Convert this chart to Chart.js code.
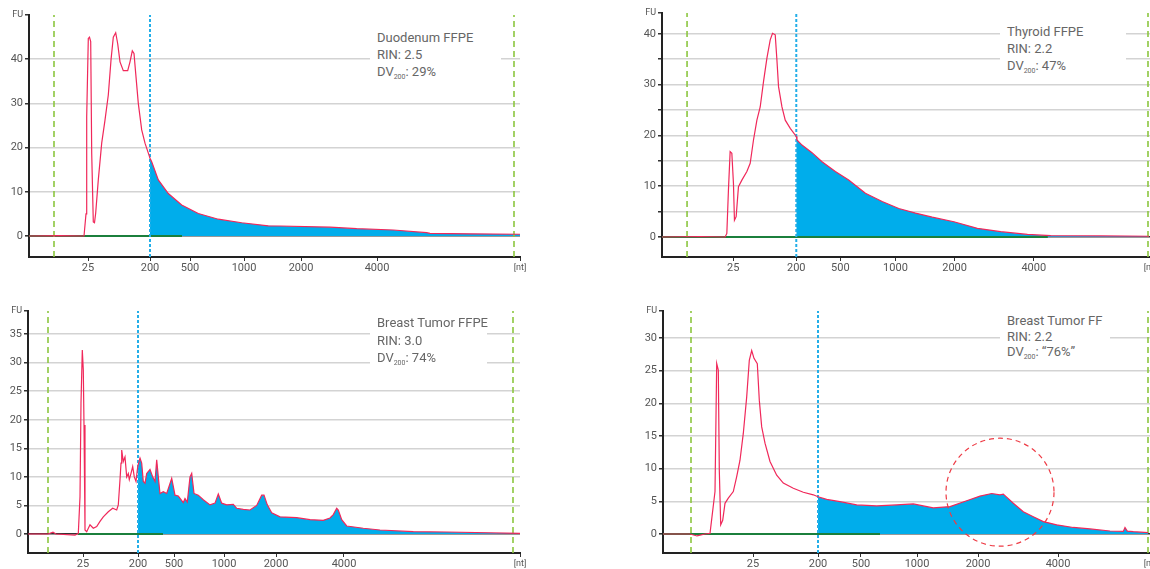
<!DOCTYPE html>
<html>
<head>
<meta charset="utf-8">
<script src="https://cdn.jsdelivr.net/npm/chart.js@4/dist/chart.umd.min.js"></script>
<style>
  body { margin: 0; background: #fff; }
  #wrap { position: relative; width: 1150px; height: 569px; overflow: hidden; font-family: Roboto, sans-serif; }
  canvas { position: absolute; }
  .note { position: absolute; background: #fff; color: #666; font-size: 13px; padding-left: 7px; box-sizing: border-box; white-space: nowrap; }
  .note sub { font-size: 7px; vertical-align: -3px; }
</style>
</head>
<body>
<div id="wrap">
  <canvas id="c1" width="575" height="285" style="left:0;top:0"></canvas>
  <canvas id="c2" width="517" height="285" style="left:633px;top:0"></canvas>
  <canvas id="c3" width="575" height="279" style="left:0;top:290px"></canvas>
  <canvas id="c4" width="517" height="279" style="left:633px;top:290px"></canvas>

  <div class="note" style="left:370px;top:29px;width:131px;line-height:17px">Duodenum FFPE<br>RIN: 2.5<br>DV<sub>200</sub>: 29%</div>
  <div class="note" style="left:1000px;top:23px;width:126px;line-height:17px">Thyroid FFPE<br>RIN: 2.2<br>DV<sub>200</sub>: 47%</div>
  <div class="note" style="left:370px;top:314px;width:117px;line-height:17.5px">Breast Tumor FFPE<br>RIN: 3.0<br>DV<sub>200</sub>: 74%</div>
  <div class="note" style="left:1000px;top:313px;width:110px;line-height:15.5px">Breast Tumor FF<br>RIN: 2.2<br>DV<sub>200</sub>: “76%”</div>
</div>

<script>
// ladder (nt) labels shown on the x axis
const ladderLabels = ['25', '200', '500', '1000', '2000', '4000'];

// Duodenum FFPE - migration time (s) / fluorescence (FU)
const duoTime = [18, 21.1, 23.5, 23.7, 23.77, 23.93, 24.05, 24.17, 24.27, 24.43, 24.55, 24.67, 24.93, 25.27, 25.6, 25.93, 26.2, 26.43, 26.67, 26.87, 27.1, 27.43, 27.87, 28.1, 28.33, 28.5, 28.67, 28.93, 29.27, 29.6, 30.0, 30.1, 30.27, 30.93, 31.93, 33.27, 34.93, 36.93, 39.27, 41.93, 43.1, 48.1, 50.77, 54.43, 57.77, 58.1, 62.1, 67.1];
const duoFU = [0, 0.1, 0, 5, 27, 44.7, 45, 44, 18.8, 3.2, 3.0, 5.2, 12.7, 21, 26.2, 31.9, 39.8, 45, 46, 43.5, 39.4, 37.4, 37.4, 39.4, 41.9, 41.3, 36.8, 30, 24, 21, 18.3, 17.6, 16.8, 12.7, 9.6, 7.0, 5.1, 3.8, 3.0, 2.3, 2.26, 2.0, 1.65, 1.36, 0.75, 0.6, 0.5, 0.4];
const duoLadder = [23.9, 30.1, 34.1, 39.5, 45.2, 52.8];
const duoMarkers = [20.5, 66.5];
const duoBaseline = [18, 33.3];
const duoYTicks = [0, 10, 20, 30, 40];

// Thyroid FFPE
const thyTime = [18, 21.8, 24.3, 24.47, 24.63, 24.8, 24.97, 25.13, 25.23, 25.4, 25.63, 25.97, 26.47, 26.8, 27.13, 27.47, 27.8, 28.13, 28.47, 28.8, 29.03, 29.3, 29.47, 29.63, 29.97, 30.3, 30.8, 31.4, 31.47, 31.97, 32.97, 33.97, 35.3, 36.63, 38.3, 39.97, 41.63, 43.3, 44.97, 47.13, 49.47, 51.8, 54.47, 56.8, 61.8, 66.6];
const thyFU = [0, 0.1, 0, 0.7, 9.25, 16.8, 16.5, 10.6, 3.3, 4.0, 9.9, 11.2, 12.9, 14.5, 19.1, 23, 25.6, 30.6, 35.2, 38.8, 40.1, 39.8, 34.8, 29.6, 25.6, 23, 21.4, 19.8, 19.1, 18.1, 16.6, 14.8, 12.9, 11.2, 8.6, 7.0, 5.6, 4.7, 3.9, 3.0, 1.7, 1.04, 0.5, 0.26, 0.2, 0.15];
const thyLadder = [25.1, 31.4, 35.8, 41.3, 47.2, 55.1];
const thyMarkers = [20.5, 66.5];
const thyBaseline = [18, 56.5];
const thyYTicks = [0, 5, 10, 15, 20, 25, 30, 35, 40];

// Breast Tumor FFPE
const btTime = [18, 20, 20.5, 20.8, 22.7, 23.03, 23.2, 23.3, 23.43, 23.53, 23.6, 23.7, 23.87, 24.2, 24.53, 24.87, 25.2, 25.53, 26.03, 26.47, 26.87, 27.03, 27.2, 27.3, 27.37, 27.53, 27.7, 27.87, 28.03, 28.13, 28.3, 28.47, 28.63, 28.8, 28.93, 29.0, 29.2, 29.37, 29.53, 29.7, 29.87, 30.2, 30.47, 30.7, 30.87, 31.03, 31.2, 31.53, 31.87, 32.37, 32.7, 33.03, 33.53, 33.7, 33.93, 34.2, 34.37, 34.6, 35.03, 35.53, 36.2, 36.7, 37.03, 37.37, 37.87, 38.53, 38.87, 39.53, 40.2, 40.87, 41.37, 41.6, 41.93, 42.37, 43.2, 44.87, 46.2, 47.53, 48.2, 48.53, 48.87, 49.03, 49.37, 49.87, 51.53, 53.2, 56.53, 59.87, 67.2];
const btFU = [0, 0, 0.3, 0, -0.2, 0.1, 6.5, 22.9, 32.2, 28.7, 19.1, 0.7, 0.4, 1.6, 1.0, 1.3, 2.2, 3.0, 3.9, 4.5, 4.2, 5.1, 9.5, 12.4, 14.7, 12.7, 13.5, 10, 10.6, 9.5, 10.6, 11.8, 10, 9.2, 11.2, 12, 13.3, 12.4, 9.2, 8.9, 10.6, 11.3, 10, 9.2, 13, 10, 7.1, 7.4, 7.1, 9.75, 6.8, 6.65, 5.5, 6.2, 5.6, 10, 10.6, 7.1, 6.8, 6.0, 5.1, 5.4, 7.0, 5.4, 5.1, 5.2, 4.5, 4.3, 4.2, 5.0, 6.8, 6.8, 5.1, 3.7, 3.0, 2.85, 2.5, 2.4, 2.8, 3.4, 4.5, 4.2, 2.5, 1.4, 1.0, 0.7, 0.4, 0.35, 0.1];
const btLadder = [23.5, 29.0, 32.6, 37.6, 42.8, 49.6];
const btMarkers = [20.0, 66.5];
const btBaseline = [23.0, 31.5];
const btYTicks = [0, 5, 10, 15, 20, 25, 30, 35];

// Breast Tumor FF
const ffTime = [18, 20.7, 21.4, 22.2, 22.7, 23.2, 23.37, 23.53, 23.63, 23.77, 23.97, 24.2, 24.53, 25.03, 25.37, 25.7, 26.03, 26.37, 26.63, 26.87, 27.1, 27.43, 27.63, 27.87, 28.2, 28.7, 29.37, 30.03, 31.03, 32.03, 33.03, 33.5, 34.37, 35.7, 37.37, 39.37, 41.37, 43.03, 45.03, 46.7, 48.37, 49.7, 50.87, 51.7, 52.03, 53.03, 54.03, 55.03, 56.03, 57.37, 59.03, 60.7, 62.7, 64.03, 64.2, 64.43, 65.03, 66.5];
const ffFU = [0, 0, -0.3, 0, 0.1, 6.5, 26.1, 25.1, 9.8, 1.4, 2.1, 4.7, 5.5, 6.5, 8.8, 11.3, 15.4, 21, 26.6, 28.1, 26.9, 26.1, 20.5, 16.4, 13.9, 11.1, 9.0, 7.8, 7.0, 6.4, 6.0, 5.7, 5.3, 4.95, 4.45, 4.3, 4.45, 4.6, 4.0, 4.2, 5.1, 5.8, 6.2, 6.0, 6.1, 4.7, 3.4, 2.65, 1.9, 1.4, 1.0, 0.77, 0.46, 0.4, 1.0, 0.45, 0.36, 0.2];
const ffLadder = [27.0, 33.5, 37.8, 43.4, 49.5, 57.5];
const ffMarkers = [20.8, 66.5];
const ffBaseline = [18, 39.7];
const ffYTicks = [0, 5, 10, 15, 20, 25, 30];

Chart.defaults.font.family = 'Roboto, sans-serif';
Chart.defaults.font.size = 11;
Chart.defaults.color = '#555';

// dashed circle around a point, radius given in x units
const circlePlugin = {
    id: 'circleNote',
    afterDatasetsDraw(chart, args, opts) {
        if (!opts || opts.x === undefined) return;
        const xs = chart.scales.x, ys = chart.scales.y;
        const cx = xs.getPixelForValue(opts.x);
        const cy = ys.getPixelForValue(opts.y);
        const r = xs.getPixelForValue(opts.x + opts.r) - cx;
        const ctx = chart.ctx;
        ctx.save();
        ctx.strokeStyle = '#ee3b45';
        ctx.lineWidth = 1.2;
        ctx.setLineDash([5, 4]);
        ctx.beginPath();
        ctx.arc(cx, cy, r, 0, Math.PI * 2);
        ctx.stroke();
        ctx.restore();
    }
};

function vline(x, y0, y1, color, dash, width) {
    return {
        data: [{ x: x, y: y0 }, { x: x, y: y1 }],
        borderColor: color, borderDash: dash, borderWidth: width,
        pointRadius: 0, fill: false
    };
}

function makePanel(id, p) {
    const trace = p.time.map((t, i) => ({ x: t, y: p.fu[i] }));
    const dv200 = trace.filter(d => d.x >= p.ladder[1]);
    const xMax = p.xMax, yMin = p.yMin, yMax = p.yMax;

    new Chart(document.getElementById(id).getContext('2d'), {
        type: 'line',
        plugins: [circlePlugin],
        data: {
            datasets: [
                { data: trace, borderColor: '#f0285a', borderWidth: 1.2, pointRadius: 0, fill: false },
                vline(p.ladder[1], yMin, yMax, '#23aee8', [3, 2], 2),
                vline(p.markers[0], yMin, yMax, '#8cc63f', [6, 4], 1.6),
                vline(p.markers[1], yMin, yMax, '#8cc63f', [6, 4], 1.6),
                { data: [{ x: p.baseline[0], y: 0 }, { x: p.baseline[1], y: 0 }], borderColor: '#1b7f3c', borderWidth: 2, pointRadius: 0, fill: false },
                { data: dv200, borderWidth: 0, pointRadius: 0, backgroundColor: '#00adeb', fill: 'origin' }
            ]
        },
        options: {
            responsive: false,
            animation: false,
            layout: { padding: { top: p.top, right: p.right, left: 0, bottom: 0 } },
            plugins: { legend: { display: false }, tooltip: { enabled: false }, circleNote: p.circle || {} },
            scales: {
                x: {
                    type: 'linear', min: 18, max: xMax,
                    afterBuildTicks: s => { s.ticks = p.ladder.concat([xMax]).map(v => ({ value: v })); },
                    afterFit: s => { s.height = p.xHeight; s.paddingLeft = 0; s.paddingRight = 0; },
                    ticks: {
                        autoSkip: false, maxRotation: 0, padding: 1,
                        callback: (v, i) => i < ladderLabels.length ? ladderLabels[i] : '[nt]',
                        font: c => ({ size: c.index === ladderLabels.length ? 9 : 11 })
                    },
                    grid: { drawOnChartArea: false, drawTicks: true, tickLength: 4, color: '#333' },
                    border: { color: '#222', width: 2 }
                },
                y: {
                    min: yMin, max: yMax,
                    afterBuildTicks: s => { s.ticks = p.yTicks.concat([yMax]).map(v => ({ value: v })); },
                    afterFit: s => { s.width = p.yWidth; s.paddingTop = 0; s.paddingBottom = 0; },
                    ticks: {
                        padding: 2,
                        callback: v => v === yMax ? 'FU' : (v % p.labelStep === 0 ? v : ''),
                        font: c => ({ size: c.tick && c.tick.value === yMax ? 9 : 11 })
                    },
                    grid: {
                        color: c => c.tick.value === 0 ? '#333' : (c.tick.value === yMax ? 'rgba(0,0,0,0)' : '#d3d3d3'),
                        lineWidth: c => c.tick.value === 0 ? 1.6 : 1.5,
                        tickColor: '#333', tickLength: 4
                    },
                    border: { color: '#222', width: 2 }
                }
            }
        }
    });
}

makePanel('c1', { time: duoTime, fu: duoFU, ladder: duoLadder, markers: duoMarkers, baseline: duoBaseline,
    yTicks: duoYTicks, labelStep: 10, xMax: 67.1, yMin: -4.75, yMax: 50, top: 15, right: 55, yWidth: 29, xHeight: 28 });
makePanel('c2', { time: thyTime, fu: thyFU, ladder: thyLadder, markers: thyMarkers, baseline: thyBaseline,
    yTicks: thyYTicks, labelStep: 10, xMax: 66.7, yMin: -3.94, yMax: 44.1, top: 13, right: 0, yWidth: 29, xHeight: 28 });
makePanel('c3', { time: btTime, fu: btFU, ladder: btLadder, markers: btMarkers, baseline: btBaseline,
    yTicks: btYTicks, labelStep: 5, xMax: 67.2, yMin: -3.33, yMax: 39.05, top: 21, right: 55, yWidth: 28, xHeight: 16 });
makePanel('c4', { time: ffTime, fu: ffFU, ladder: ffLadder, markers: ffMarkers, baseline: ffBaseline,
    yTicks: ffYTicks, labelStep: 5, xMax: 66.7, yMin: -2.91, yMax: 34.15, top: 21, right: 0, yWidth: 30, xHeight: 16,
    circle: { x: 51.7, y: 6.4, r: 5.4 } });
</script>
</body>
</html>
